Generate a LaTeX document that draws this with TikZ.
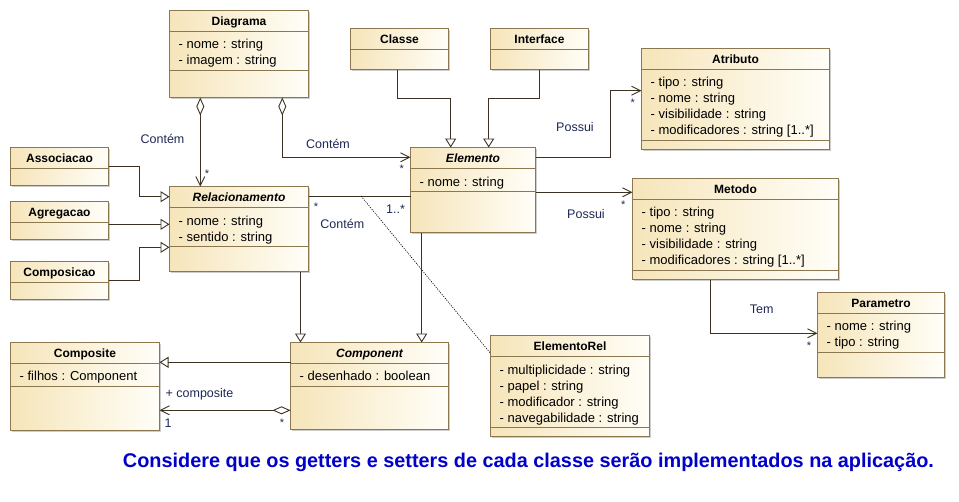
\documentclass[tikz,border=0pt]{standalone}
\usepackage{fontspec}
\setmainfont{Liberation Sans}
\usetikzlibrary{arrows.meta}
\definecolor{bord}{RGB}{140,120,80}
\definecolor{fillL}{RGB}{246,229,186}
\definecolor{fillR}{RGB}{255,254,248}
\definecolor{lin}{RGB}{60,50,35}
\definecolor{lbl}{RGB}{30,40,85}
\definecolor{note}{RGB}{0,0,200}
\definecolor{shad}{RGB}{205,205,205}
\tikzset{
 cls/.style={draw=bord, line width=0.8pt, left color=fillL, right color=fillR, anchor=north west, inner sep=0pt, outer sep=0pt},
 ttl/.style={font=\fontsize{12}{14}\selectfont\bfseries, anchor=base, inner sep=0pt},
 ittl/.style={font=\fontsize{12}{14}\selectfont\bfseries\itshape, anchor=base, inner sep=0pt},
 att/.style={font=\fontsize{13}{15}\selectfont, anchor=base west, inner sep=0pt},
 sepl/.style={draw=bord, line width=0.8pt},
 lab/.style={font=\fontsize{12.5}{14}\selectfont, text=lbl, inner sep=0pt},
 mult/.style={font=\fontsize{11}{12}\selectfont, text=lbl, inner sep=0pt, yshift=-2pt},
 conn/.style={draw=lin, line width=0.9pt},
 gen/.style={conn, -{Triangle[open, length=9pt, width=11pt, fill=white]}},
 nav/.style={conn, -{Straight Barb[length=9pt, width=9pt]}},
 agg/.style={conn, {Diamond[open, length=18pt, width=8pt, fill=white]}-{Straight Barb[length=9pt, width=9pt]}},
 relink/.style={draw=black, line width=0.6pt, dash pattern=on 1.2pt off 1.2pt},
}
\newcommand\ubox[7]{%
 \fill[shad] (#2+1.5,#3+1.5) rectangle (#4+1.5,#5+1.5);
 \node[cls, minimum width=#4pt-#2pt, minimum height=#5pt-#3pt] (#1) at (#2,#3) {};
 \node[#7] (#1-title) at ({(#2+#4)/2},#3+15.4) {#6};
}
\newcommand\usep[2]{\draw[sepl] (#1.west |- 0,#2) -- (#1.east |- 0,#2);}
\newcommand\uatt[4]{\node[att] (#1) at (#2,#3+5) {#4};}
\begin{document}
\begin{tikzpicture}[x=1pt,y=-1pt]
\fill[white] (0,0) rectangle (959,501);
\useasboundingbox (0,0) rectangle (959,501);

% Diagrama
\ubox{diag}{169.5}{10.5}{308.5}{97.5}{Diagrama}{ttl}
\usep{diag}{31.5}\usep{diag}{70.5}
\uatt{diag-a1}{178.5}{43.3}{- nome : string}
\uatt{diag-a2}{178.5}{59.3}{- imagem : string}

% Relacionamento
\ubox{rel}{169.5}{186.5}{308.5}{271.5}{Relacionamento}{ittl}
\usep{rel}{207.5}\usep{rel}{246.5}
\uatt{rel-a1}{178.5}{220}{- nome : string}
\uatt{rel-a2}{178.5}{236}{- sentido : string}

% Associacao, Agregacao, Composicao
\ubox{assoc}{10.5}{147.5}{108.5}{185.5}{Associacao}{ttl}
\usep{assoc}{168.5}
\ubox{agreg}{10.5}{201.5}{108.5}{239.5}{Agregacao}{ttl}
\usep{agreg}{222.5}
\ubox{compo}{10.5}{261.5}{108.5}{299.5}{Composicao}{ttl}
\usep{compo}{282.5}

% Classe, Interface
\ubox{classe}{350.5}{28.5}{448.5}{69.5}{Classe}{ttl}
\usep{classe}{49.5}
\ubox{iface}{490.5}{28.5}{588.5}{69.5}{Interface}{ttl}
\usep{iface}{49.5}

% Elemento
\ubox{elem}{410.5}{147.5}{535.5}{232.5}{Elemento}{ittl}
\usep{elem}{168.5}\usep{elem}{191.5}
\uatt{elem-a1}{419.5}{181}{- nome : string}

% Atributo
\ubox{atr}{641.5}{48.5}{829.5}{149.5}{Atributo}{ttl}
\usep{atr}{69.5}\usep{atr}{140.5}
\uatt{atr-a1}{650.5}{81.7}{- tipo : string}
\uatt{atr-a2}{650.5}{97.7}{- nome : string}
\uatt{atr-a3}{650.5}{113.7}{- visibilidade : string}
\uatt{atr-a4}{650.5}{129.7}{- modificadores : string [1..*]}

% Metodo
\ubox{met}{632.5}{178.5}{838.5}{279.5}{Metodo}{ttl}
\usep{met}{199.5}\usep{met}{270.5}
\uatt{met-a1}{641.5}{211.7}{- tipo : string}
\uatt{met-a2}{641.5}{227.7}{- nome : string}
\uatt{met-a3}{641.5}{243.7}{- visibilidade : string}
\uatt{met-a4}{641.5}{259.7}{- modificadores : string [1..*]}

% Parametro
\ubox{par}{817.5}{292.5}{944.5}{377.5}{Parametro}{ttl}
\usep{par}{313.5}\usep{par}{352.5}
\uatt{par-a1}{826.5}{325.7}{- nome : string}
\uatt{par-a2}{826.5}{341.7}{- tipo : string}

% Composite
\ubox{compos}{10.5}{342.5}{159.5}{430.5}{Composite}{ttl}
\usep{compos}{363.5}\usep{compos}{386.5}
\uatt{compos-a1}{19.5}{375.3}{- filhos : Component}

% Component
\ubox{comp}{290.5}{342.5}{448.5}{429.5}{Component}{ittl}
\usep{comp}{363.5}\usep{comp}{386.5}
\uatt{comp-a1}{299.5}{375.3}{- desenhado : boolean}

% ElementoRel
\ubox{erel}{490.5}{335.5}{649.5}{436.5}{ElementoRel}{ttl}
\usep{erel}{356.5}\usep{erel}{427.5}
\uatt{erel-a1}{499.5}{369}{- multiplicidade : string}
\uatt{erel-a2}{499.5}{385}{- papel : string}
\uatt{erel-a3}{499.5}{401}{- modificador : string}
\uatt{erel-a4}{499.5}{417}{- navegabilidade : string}

% Connectors
\draw[agg] (diag.south -| 200.3,0) -- (rel.north -| 200.3,0);
\draw[agg] (diag.south -| 282.3,0) |- (elem.west |- 0,157.3);
\draw[gen] (assoc.east) -| (139,196.7) -- (rel.west |- 0,196.7);
\draw[gen] (agreg.east |- 0,224.3) -- (rel.west |- 0,224.3);
\draw[gen] (compo.east) -| (139,247.3) -- (rel.west |- 0,247.3);
\draw[gen] (classe.south -| 397.3,0) |- (450.7,98.3) -- (elem.north -| 450.7,0);
\draw[gen] (iface.south) |- (488.7,98.3) -- (elem.north -| 488.7,0);
\draw[nav] (elem.east |- 0,157.3) -| (610.7,90.7) -- (atr.west |- 0,90.7);
\draw[nav] (elem.east |- 0,192.3) -- (met.west |- 0,192.3);
\draw[nav] (met.south -| 710.3,0) |- (par.west |- 0,333.3);
\draw[conn] (rel.east |- 0,196) -- (elem.west |- 0,196);
\coordinate (aclink) at (361,196);
\draw[relink] (aclink) -- (erel.west |- 0,353.3);
\draw[gen] (rel.south -| 300.5,0) -- (comp.north -| 300.5,0);
\draw[gen] (elem.south -| 421.7,0) -- (comp.north -| 421.7,0);
\draw[gen] (comp.west |- 0,362.3) -- (compos.east |- 0,362.3);
\draw[agg] (comp.west |- 0,410.3) -- (compos.east |- 0,410.3);

% Labels
\node[lab] (l1) at (162.5,139.3) {Contém};
\node[mult] (m1) at (207,171.7) {*};
\node[lab] (l2) at (328,144) {Contém};
\node[mult] (m2) at (401.7,166.7) {*};
\node[lab] (l3) at (575,127.3) {Possui};
\node[mult] (m3) at (632.7,100.7) {*};
\node[lab] (l4) at (586,214.3) {Possui};
\node[mult] (m4) at (623.3,202.3) {*};
\node[lab] (l5) at (761.7,309.3) {Tem};
\node[mult] (m5) at (809,343.3) {*};
\node[mult] (m6) at (316,205) {*};
\node[lab] (m7) at (395.5,209) {1..*};
\node[lab] (l6) at (342.3,224.3) {Contém};
\node[lab] (l7) at (199.5,394.7) {+ composite};
\node[lab] (m8) at (168,422.7) {1};
\node[mult] (m9) at (282,420.7) {*};

% Note
\node[text=note, inner sep=0pt, font=\fontsize{18}{20}\selectfont\bfseries] (note) at (528.5,462.5)
 {\resizebox{811pt}{!}{Considere que os getters e setters de cada classe serão implementados na aplicação.}};
\end{tikzpicture}
\end{document}
